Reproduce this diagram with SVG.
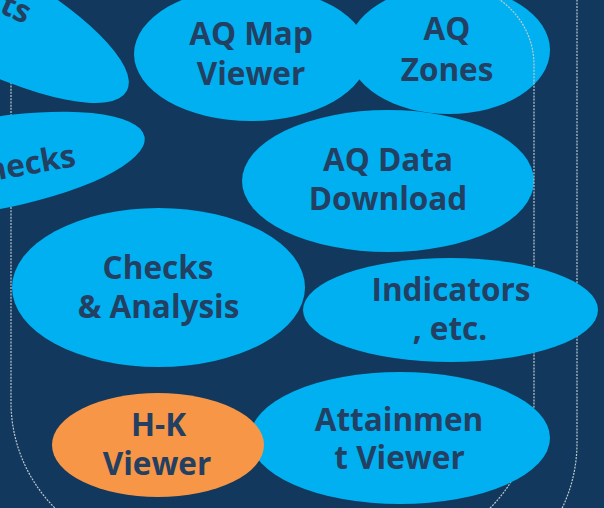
<svg xmlns="http://www.w3.org/2000/svg" width="604" height="508" viewBox="0 0 604 508">
<style>
.bg{fill:#12385d}
.blue{fill:#00b0f0}
.orange{fill:#f79646}
.t{font-family:"Open Sans","Liberation Sans",sans-serif;font-weight:700;font-size:31.5px;fill:#233f62;text-anchor:middle}
.line{fill:none;stroke:#bccacc;stroke-width:1.2;stroke-dasharray:2 1.2}
</style>
<rect class="bg" x="0" y="0" width="604" height="508"/>
<g id="aq-zones">
<ellipse class="blue" cx="449" cy="50" rx="101" ry="64"/>
<text class="t" x="447" y="40">AQ</text>
<text class="t" x="447" y="81">Zones</text>
</g>
<g id="aq-data-download">
<ellipse class="blue" cx="388" cy="181" rx="146" ry="71"/>
<text class="t" x="388" y="171">AQ Data</text>
<text class="t" x="388" y="210">Download</text>
</g>
<g id="connectors">
<path class="line" d="M11,65 A79,79 0 0 1 90,-14 L455,-14 A79,79 0 0 1 534,65 L534,402 A150,150 0 0 1 384,552 L161,552 A150,150 0 0 1 11,402 Z"/>
<path class="line" d="M577,-10 L577,443 A150,150 0 0 1 427,593"/>
</g>
<g id="top-left">
<ellipse class="blue" cx="-25" cy="10" rx="172" ry="52" transform="rotate(28 -25 10)"/>
<text class="t" x="25" y="24" style="text-anchor:end" transform="rotate(24 25 24)">ts</text>
</g>
<g id="checks-left">
<ellipse class="blue" cx="-15" cy="165" rx="162" ry="46" transform="rotate(-10 -15 165)"/>
<text class="t" x="77" y="166" style="text-anchor:end" transform="rotate(-10 77 166)">hecks</text>
</g>
<g id="aq-map-viewer">
<ellipse class="blue" cx="251" cy="54" rx="117" ry="67"/>
<text class="t" x="251" y="45">AQ Map</text>
<text class="t" x="251" y="85">Viewer</text>
</g>
<g id="checks-analysis">
<ellipse class="blue" cx="158.5" cy="287.5" rx="146.5" ry="79.5"/>
<text class="t" x="158" y="279">Checks</text>
<text class="t" x="158.5" y="318">&amp; Analysis</text>
</g>
<g id="indicators">
<ellipse class="blue" cx="450.5" cy="310" rx="147.5" ry="52"/>
<text class="t" x="451" y="301">Indicators</text>
<text class="t" x="450" y="340">, etc.</text>
</g>
<g id="attainment-viewer">
<ellipse class="blue" cx="400" cy="438" rx="150" ry="66"/>
<text class="t" x="399" y="431">Attainmen</text>
<text class="t" x="399.5" y="469">t Viewer</text>
</g>
<g id="hk-viewer">
<ellipse class="orange" cx="158" cy="445" rx="106" ry="52"/>
<text class="t" x="158.5" y="436">H-K</text>
<text class="t" x="157" y="475">Viewer</text>
</g>
</svg>
